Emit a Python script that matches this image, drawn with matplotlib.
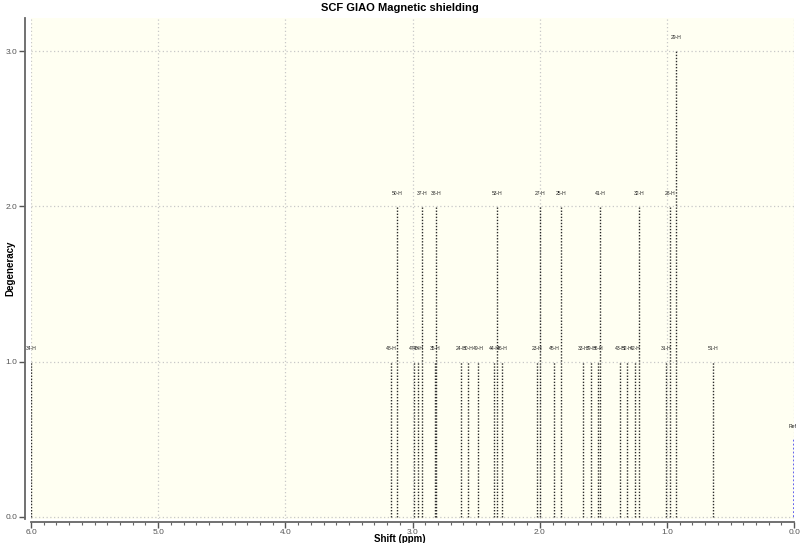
import matplotlib
matplotlib.use('Agg')
import matplotlib.pyplot as plt
from matplotlib.ticker import MultipleLocator

plt.rcParams['font.family'] = ['Liberation Sans', 'DejaVu Sans']

# peak labels, shifts (ppm) and degeneracy
labels = ['34-H', '48-H', '50-H', '47-H', '40-H', '37-H', '35-H', '38-H',
          '24-H', '30-H', '49-H', '44-H', '53-H', '46-H', '23-H', '27-H',
          '45-H', '25-H', '33-H', '39-H', '36-H', '41-H', '43-H', '52-H',
          '42-H', '32-H', '31-H', '28-H', '29-H', '51-H']
shifts = [5.998, 3.168, 3.121, 2.987, 2.956, 2.925, 2.822, 2.814,
          2.618, 2.563, 2.484, 2.358, 2.335, 2.296, 2.020, 1.997,
          1.887, 1.832, 1.659, 1.596, 1.541, 1.525, 1.368, 1.313,
          1.250, 1.219, 1.006, 0.975, 0.928, 0.637]
degeneracy = [1, 1, 2, 1, 1, 2, 1, 2,
              1, 1, 1, 1, 2, 1, 1, 2,
              1, 2, 1, 1, 1, 2, 1, 1,
              1, 2, 1, 2, 3, 1]
ref_shift = 0.0
ref_height = 0.5

fig = plt.figure(figsize=(8, 5.43), dpi=100)
ax = fig.add_axes([0.03875, 0.0442, 0.954, 0.9227])
ax.set_facecolor('#fffff2')

ax.vlines(shifts, 0, degeneracy, colors='#2a2a2a', linestyles=(0, (1, 1.2)), lw=1.0, zorder=3)
ax.vlines([ref_shift], 0, [ref_height], colors='#5555ee', linestyles=(0, (1, 1.2)), lw=1.3, zorder=3)

for lab, x, h in zip(labels, shifts, degeneracy):
    ax.text(x, h + 0.085, lab, fontsize=3.6, ha='center', va='center', color='#222222')
ax.text(ref_shift + 0.01, ref_height + 0.085, 'Ref', fontsize=3.6, ha='center', va='center', color='#222222')

ax.set_xlim(6.0, 0.0)
ax.set_ylim(-0.013, 3.213)
ax.xaxis.set_major_locator(MultipleLocator(1.0))
ax.xaxis.set_minor_locator(MultipleLocator(0.1))
ax.yaxis.set_major_locator(MultipleLocator(1.0))
ax.xaxis.set_major_formatter(plt.FormatStrFormatter('%.1f'))
ax.yaxis.set_major_formatter(plt.FormatStrFormatter('%.1f'))

ax.grid(True, which='major', linestyle=(0, (1, 2)), color='#c8c8c8', lw=0.9, zorder=0)

for s in ['top', 'right']:
    ax.spines[s].set_visible(False)
ax.spines['left'].set_position(('outward', 4))
ax.spines['bottom'].set_position(('outward', 2))
for s in ['left', 'bottom']:
    ax.spines[s].set_color('#666666')
    ax.spines[s].set_linewidth(1.3)

ax.tick_params(axis='both', which='major', labelsize=6, colors='#555555', length=4, width=1)
ax.tick_params(axis='x', which='minor', length=2.5, width=0.8, colors='#666666')
ax.tick_params(axis='x', pad=1)
ax.tick_params(axis='y', pad=2)

fig.text(0.5, 1 - 538.5 / 543, 'Shift (ppm)', fontsize=7, fontweight='bold', ha='center', va='center')
fig.text(10 / 800, 1 - 268 / 543, 'Degeneracy', fontsize=7, fontweight='bold', ha='center', va='center', rotation=90)
fig.text(0.5, 0.985, 'SCF GIAO Magnetic shielding', fontsize=8, fontweight='bold', ha='center', va='center')

fig.savefig('out.png', dpi=100)
